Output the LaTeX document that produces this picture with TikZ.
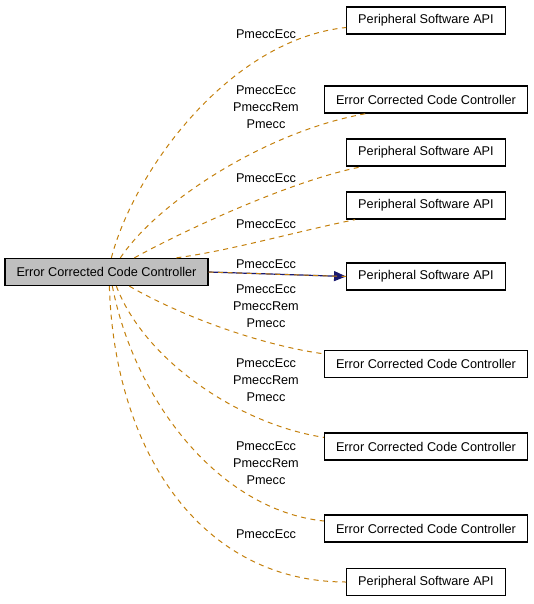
\documentclass[tikz,border=0pt]{standalone}
\usepackage{fontspec}
\setmainfont{Liberation Sans}
\usetikzlibrary{arrows.meta}
\definecolor{usedorange}{RGB}{196,128,12}
\definecolor{callblue}{RGB}{25,25,112}
\definecolor{hubgray}{RGB}{191,191,191}

\begin{document}
\begin{tikzpicture}[
  x=1pt, y=-1pt,
  every node/.style={font=\fontsize{12.7}{17}\selectfont},
  module/.style={draw, line width=1.3pt, minimum height=27pt, inner xsep=11.5pt, inner ysep=0pt},
  current/.style={module, fill=hubgray},
  member/.style={draw=usedorange, line width=1pt, dash pattern=on 5pt off 4.5pt},
  calls/.style={draw=callblue, line width=1.2pt, -{Triangle[length=12pt, width=10pt]}},
  role/.style={align=center, inner sep=0pt}
]
\useasboundingbox (0,0) rectangle (533,604);
\node[current] (eccmain) at (106.5,272) {Error Corrected Code Controller};
\node[module] (api1) at (426,20.5) {Peripheral Software API};
\node[module] (ecc2) at (426,99.5) {Error Corrected Code Controller};
\node[module] (api3) at (426,152.5) {Peripheral Software API};
\node[module] (api4) at (426,205.5) {Peripheral Software API};
\node[module] (api5) at (426,276.5) {Peripheral Software API};
\node[module] (ecc6) at (426,364) {Error Corrected Code Controller};
\node[module] (ecc7) at (426,446.5) {Error Corrected Code Controller};
\node[module] (ecc8) at (426,528.5) {Error Corrected Code Controller};
\node[module] (api9) at (426,582) {Peripheral Software API};

\node[role] (lab1) at (266,34) {PmeccEcc};
\node[role] (lab2) at (266,107) {PmeccEcc\\PmeccRem\\Pmecc};
\node[role] (lab3) at (266,178) {PmeccEcc};
\node[role] (lab4) at (266,224) {PmeccEcc};
\node[role] (lab5a) at (266,264) {PmeccEcc};
\node[role] (lab5b) at (266,306) {PmeccEcc\\PmeccRem\\Pmecc};
\node[role] (lab6) at (266,380) {PmeccEcc\\PmeccRem\\Pmecc};
\node[role] (lab7) at (266,463) {PmeccEcc\\PmeccRem\\Pmecc};
\node[role] (lab8) at (266,534) {PmeccEcc};

\draw[calls] (eccmain.east) -- (api5.west);
\draw[member] (eccmain.east) -- (api5.west);
\draw[member] ([xshift=107pt]eccmain.north west) .. controls +(23,-88) and +(-116,12) .. ([yshift=-7pt]api1.west);
\draw[member] ([xshift=116pt]eccmain.north west) .. controls +(39,-58) and +(-97,17) .. ([xshift=42pt]ecc2.south west);
\draw[member] ([xshift=130pt]eccmain.north west) .. controls +(45,-25) and +(-72,14) .. ([xshift=16pt]api3.south west);
\draw[member] ([xshift=172pt]eccmain.north west) .. controls +(53,-7) and +(-55,11) .. ([xshift=9pt]api4.south west);
\draw[member] ([xshift=125pt]eccmain.south west) .. controls +(50,29) and +(-65,-9) .. ([yshift=-4pt]ecc6.north west);
\draw[member] ([xshift=112pt]eccmain.south west) .. controls +(28,74) and +(-85,-13) .. ([yshift=-5pt]ecc7.north west);
\draw[member] ([xshift=108pt]eccmain.south west) .. controls +(22,114) and +(-105,-11) .. ([yshift=7.5pt]ecc8.west);
\draw[member] ([xshift=105pt]eccmain.south west) .. controls +(5,164) and +(-146,0) .. (api9.west);
\end{tikzpicture}
\end{document}
